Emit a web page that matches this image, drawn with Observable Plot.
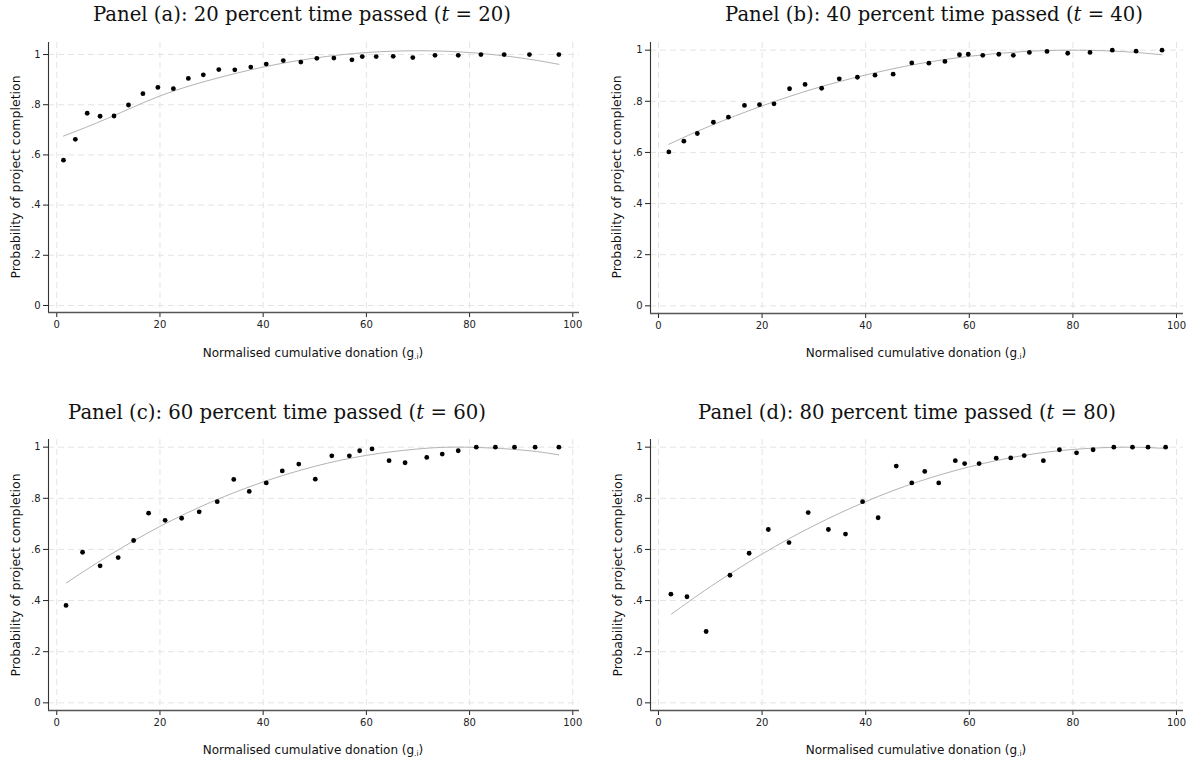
<!DOCTYPE html>
<html><head><meta charset="utf-8">
<script src="https://cdn.jsdelivr.net/npm/d3@7"></script>
<script src="https://cdn.jsdelivr.net/npm/@observablehq/plot@0.6"></script>
<style>
body{margin:0;background:#fff;}
#c{position:relative;width:1195px;height:765px;overflow:hidden;background:#fff;}
#c svg{position:absolute;overflow:visible;}
</style></head><body><div id="c"></div>
<script>
// ---- tick values / labels ----
const xTicks = [0, 20, 40, 60, 80, 100];
const xTickLabels = ["0", "20", "40", "60", "80", "100"];
const yTicks = [0, 0.2, 0.4, 0.6, 0.8, 1];
const yTickLabels = ["0", ".2", ".4", ".6", ".8", "1"];
const yAxisLabel = "Probability of project completion";
const xAxisLabelMain = "Normalised cumulative donation (g";
const xAxisLabelSub = ".i";
const xAxisLabelEnd = ")";

// ---- panel titles ----
const titlePrefix = ["Panel (a): 20 percent time passed (", "Panel (b): 40 percent time passed (", "Panel (c): 60 percent time passed (", "Panel (d): 80 percent time passed ("];
const titleVar = ["t", "t", "t", "t"];
const titleSuffix = [" = 20)", " = 40)", " = 60)", " = 80)"];

// ---- Panel (a): t = 20 ----
const aX = [1.3, 3.6, 5.9, 8.4, 11.1, 13.9, 16.7, 19.6, 22.6, 25.5, 28.4, 31.4, 34.5, 37.6, 40.6, 43.9, 47.3, 50.4, 53.7, 57.2, 59.2, 61.9, 65.2, 69.0, 73.3, 77.8, 82.2, 86.7, 91.6, 97.3];
const aY = [0.579, 0.662, 0.766, 0.754, 0.755, 0.799, 0.844, 0.869, 0.864, 0.905, 0.919, 0.940, 0.939, 0.950, 0.962, 0.976, 0.970, 0.985, 0.986, 0.979, 0.992, 0.992, 0.993, 0.988, 0.997, 0.997, 1.0, 1.0, 1.0, 1.0];
const aFitX = [1.3, 10, 20, 30, 40, 50, 60, 70, 80, 90, 97.3];
const aFitY = [0.675, 0.747, 0.835, 0.900, 0.950, 0.986, 1.008, 1.015, 1.008, 0.986, 0.961];

// ---- Panel (b): t = 40 ----
const bX = [2.0, 4.9, 7.5, 10.6, 13.5, 16.6, 19.5, 22.3, 25.3, 28.3, 31.5, 34.9, 38.4, 41.8, 45.3, 48.9, 52.2, 55.3, 58.1, 59.8, 62.6, 65.7, 68.5, 71.6, 75.0, 79.0, 83.3, 87.6, 92.2, 97.2];
const bY = [0.602, 0.644, 0.674, 0.718, 0.738, 0.784, 0.787, 0.790, 0.849, 0.866, 0.851, 0.888, 0.894, 0.902, 0.906, 0.950, 0.949, 0.956, 0.982, 0.984, 0.980, 0.984, 0.980, 0.991, 0.995, 0.988, 0.991, 1.0, 0.996, 1.0];
const bFitX = [2.0, 10, 20, 30, 40, 50, 60, 70, 80, 90, 97.2];
const bFitY = [0.632, 0.704, 0.782, 0.849, 0.903, 0.946, 0.976, 0.994, 1.0, 0.994, 0.982];

// ---- Panel (c): t = 60 ----
const cX = [1.8, 5.0, 8.4, 11.9, 14.9, 17.8, 21.0, 24.2, 27.6, 31.1, 34.3, 37.3, 40.6, 43.7, 46.9, 50.1, 53.3, 56.7, 58.7, 61.1, 64.4, 67.5, 71.7, 74.7, 77.8, 81.3, 85.0, 88.7, 92.7, 97.3];
const cY = [0.381, 0.589, 0.536, 0.568, 0.635, 0.742, 0.714, 0.722, 0.747, 0.787, 0.874, 0.827, 0.860, 0.907, 0.934, 0.875, 0.966, 0.966, 0.986, 0.993, 0.947, 0.939, 0.960, 0.973, 0.986, 1.0, 1.0, 1.0, 1.0, 1.0];
const cFitX = [1.85, 10, 20, 30, 40, 50, 60, 70, 79, 90, 97.3];
const cFitY = [0.469, 0.575, 0.690, 0.786, 0.864, 0.925, 0.968, 0.993, 1.0, 0.989, 0.970];

// ---- Panel (d): t = 80 ----
const dX = [2.4, 5.5, 9.2, 13.8, 17.5, 21.2, 25.2, 28.9, 32.8, 36.1, 39.4, 42.4, 45.9, 48.9, 51.4, 54.1, 57.3, 59.1, 61.9, 65.2, 68.0, 70.6, 74.3, 77.4, 80.7, 83.9, 87.9, 91.5, 94.5, 97.9];
const dY = [0.425, 0.415, 0.279, 0.499, 0.585, 0.678, 0.627, 0.744, 0.678, 0.660, 0.787, 0.724, 0.926, 0.860, 0.905, 0.860, 0.947, 0.936, 0.936, 0.957, 0.958, 0.967, 0.947, 0.990, 0.978, 0.990, 1.0, 1.0, 1.0, 1.0];
const dFitX = [2.5, 10, 20, 30, 40, 50, 60, 70, 80, 90, 97.9];
const dFitY = [0.347, 0.454, 0.582, 0.693, 0.787, 0.864, 0.923, 0.966, 0.991, 1.0, 0.995];

// ---- layout (positions only) ----
const panels = [
  {x: aX, y: aY, fx: aFitX, fy: aFitY, left: 0, top: 0, w: 597, h: 383, ml: 48, mr: 18, mt: 42, mb: 71, xd: [-1.6, 101.3], yd: [-0.028, 1.048], tx: 302, ty: 21, ylx: 15, yly: 177, xlx: 313, xly: 357},
  {x: bX, y: bY, fx: bFitX, fy: bFitY, left: 597, top: 0, w: 598, h: 383, ml: 53, mr: 12, mt: 42, mb: 70, xd: [-1.54, 101.35], yd: [-0.030, 1.030], tx: 337, ty: 21, ylx: 19, yly: 177, xlx: 319, xly: 357},
  {x: cX, y: cY, fx: cFitX, fy: cFitY, left: 0, top: 383, w: 597, h: 382, ml: 48, mr: 18, mt: 56, mb: 55, xd: [-1.6, 101.3], yd: [-0.030, 1.030], tx: 277, ty: 36, ylx: 15, yly: 192, xlx: 313, xly: 371},
  {x: dX, y: dY, fx: dFitX, fy: dFitY, left: 597, top: 383, w: 598, h: 382, ml: 53, mr: 12, mt: 56, mb: 55, xd: [-1.54, 101.35], yd: [-0.030, 1.030], tx: 310, ty: 36, ylx: 20, yly: 192, xlx: 319, xly: 371}
];
const titleWidth = 418;

const container = document.getElementById("c");
const gridStyle = {stroke: "#e4e4e4", strokeWidth: 1, strokeDasharray: "6,4"};

panels.forEach((p, k) => {
  const pts = p.x.map((x, i) => ({x, y: p.y[i]}));
  const fit = p.fx.map((x, i) => ({x, y: p.fy[i]}));
  const svg = Plot.plot({
    width: p.w, height: p.h,
    marginLeft: p.ml, marginRight: p.mr, marginTop: p.mt, marginBottom: p.mb,
    style: {fontFamily: "DejaVu Sans", fontSize: "10px", color: "#222", background: "transparent"},
    x: {domain: p.xd, ticks: xTicks, tickSize: 5, tickPadding: 3, tickFormat: d => xTickLabels[xTicks.indexOf(d)], label: null},
    y: {domain: p.yd, ticks: yTicks, tickSize: 5, tickPadding: 3, tickFormat: d => yTickLabels[yTicks.indexOf(d)], label: null},
    marks: [
      Plot.ruleX(xTicks, gridStyle),
      Plot.ruleY(yTicks, gridStyle),
      Plot.ruleX([p.xd[0]], {stroke: "#333", strokeWidth: 1.1}),
      Plot.ruleY([p.yd[0]], {stroke: "#555", strokeWidth: 1.4}),
      Plot.line(fit, {x: "x", y: "y", curve: "natural", stroke: "#b3b3b3", strokeWidth: 1}),
      Plot.dot(pts, {x: "x", y: "y", r: 2.4, fill: "#000", stroke: "none"})
    ]
  });
  svg.style.left = p.left + "px";
  svg.style.top = p.top + "px";
  container.appendChild(svg);
  const s = d3.select(svg);
  // title
  const t = s.append("text")
    .attr("x", p.tx).attr("y", p.ty)
    .attr("text-anchor", "middle")
    .attr("font-family", "'DejaVu Serif', serif")
    .attr("font-size", 18).attr("fill", "#111");
  t.append("tspan").text(titlePrefix[k]);
  t.append("tspan").attr("font-style", "italic").text(titleVar[k]);
  t.append("tspan").text(titleSuffix[k]);
  const len = t.node().getComputedTextLength();
  if (len > 0) t.attr("font-size", (18 * titleWidth / len).toFixed(2));
  // y label
  s.append("text")
    .attr("transform", `translate(${p.ylx},${p.yly}) rotate(-90)`)
    .attr("text-anchor", "middle").attr("dominant-baseline", "central")
    .attr("font-family", "DejaVu Sans").attr("font-size", 12.5).attr("fill", "#111")
    .text(yAxisLabel);
  // x label
  const xl = s.append("text")
    .attr("x", p.xlx).attr("y", p.xly)
    .attr("text-anchor", "middle")
    .attr("font-family", "DejaVu Sans").attr("font-size", 12).attr("fill", "#111");
  xl.append("tspan").text(xAxisLabelMain);
  xl.append("tspan").attr("font-size", 7.5).attr("dy", 2).text(xAxisLabelSub);
  xl.append("tspan").attr("dy", -2).text(xAxisLabelEnd);
});
</script></body></html>
